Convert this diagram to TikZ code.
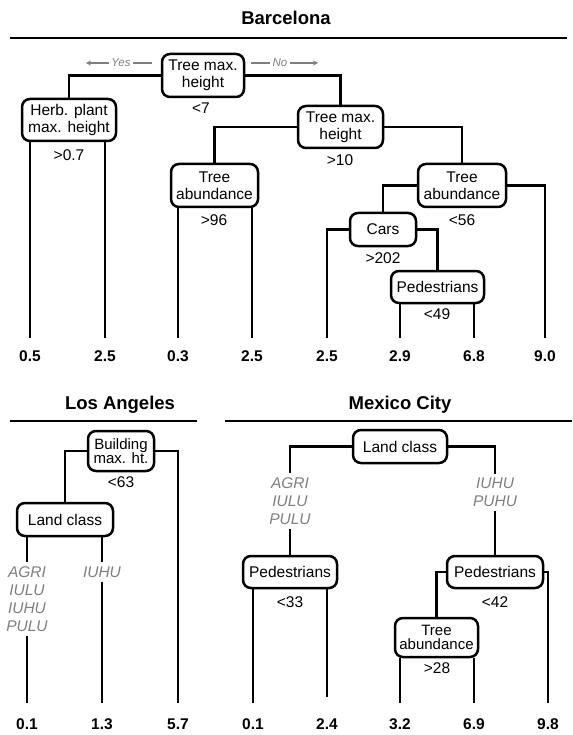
\documentclass[tikz,border=0pt]{standalone}
\usepackage{fontspec}
\setmainfont{Liberation Sans}
\usetikzlibrary{arrows.meta}
\definecolor{clsgray}{HTML}{7F7F7F}
\begin{document}
\begin{tikzpicture}[x=1pt,y=-1pt,
  box/.style={draw, line width=2.5pt, rounded corners=8pt, align=center, inner sep=0pt, fill=white,
    font=\fontsize{15.5}{17}\selectfont},
  tight/.style={font=\fontsize{15}{14.5}\selectfont},
  conn/.style={line width=2.7pt},
  cond/.style={inner sep=0pt, font=\fontsize{15.5}{17}\selectfont},
  leaf/.style={inner sep=0pt, font=\bfseries\fontsize{15.5}{17}\selectfont},
  title/.style={inner sep=0pt, font=\bfseries\fontsize{18.5}{20}\selectfont},
  cls/.style={font=\itshape\fontsize{15.5}{18}\selectfont, text=clsgray, align=center, inner sep=4pt},
  yn/.style={font=\itshape\fontsize{11.5}{13}\selectfont, text=clsgray, inner sep=2pt},
  ynline/.style={draw=clsgray, line width=1.6pt},
  rule/.style={line width=2.2pt}]
\useasboundingbox (0,0) rectangle (572,735);

% ---------------- Barcelona ----------------
\node[title] (tB) at (286,18) {Barcelona};
\coordinate (rB1) at (10,38);
\coordinate (rB2) at (567,38);
\draw[rule] (rB1) -- (rB2);

\node[box, minimum width=82pt, minimum height=43pt] (b1) at (203,75.5) {Tree max.\\height};
\node[box, minimum width=94pt, minimum height=42pt] (b2) at (69,120) {Herb. plant\\max. height};
\node[box, minimum width=85pt, minimum height=42pt] (b3) at (340.5,127) {Tree max.\\height};
\node[box, minimum width=87pt, minimum height=43pt] (b4) at (214.5,185.5) {Tree\\abundance};
\node[box, minimum width=88pt, minimum height=43pt] (b5) at (462,185.5) {Tree\\abundance};
\node[box, minimum width=66pt, minimum height=33pt] (b6) at (383,229.5) {Cars};
\node[box, minimum width=93pt, minimum height=32pt] (b7) at (437.5,287) {Pedestrians};

\node[cond] (c1) at (201,108) {<7};
\node[cond] (c2) at (69,155) {>0.7};
\node[cond] (c3) at (340,160) {>10};
\node[cond] (c4) at (214,220) {>96};
\node[cond] (c5) at (462,220) {<56};
\node[cond] (c6) at (383,258) {>202};
\node[cond] (c7) at (437,314) {<49};

% yes / no
\node[yn] (yes) at (121,63) {Yes};
\coordinate (yesL) at (86,63);
\coordinate (yesR) at (152,63);
\draw[ynline, -{Stealth[length=5pt,width=5pt]}] (yes.west) -- (yesL);
\draw[ynline] (yes.east) -- (yesR);
\node[yn] (no) at (280,63) {No};
\coordinate (noL) at (251,63);
\coordinate (noR) at (318,63);
\draw[ynline] (no.west) -- (noL);
\draw[ynline, -{Stealth[length=5pt,width=5pt]}] (no.east) -- (noR);

% leaves
\foreach \n/\x/\v in {1/30/0.5, 2/105/2.5, 3/178/0.3, 4/252/2.5, 5/327/2.5, 6/400/2.9, 7/474/6.8, 8/545/9.0}{
  \coordinate (eB\n) at (\x,338);
  \node[leaf] (lB\n) at (\x,356) {\v};
}

\draw[conn] (b1.west) -| (b2.north);
\draw[conn] (b1.east) -| (b3.north);
\draw[conn] (b2.south -| eB1) -- (eB1);
\draw[conn] (b2.south -| eB2) -- (eB2);
\draw[conn] (b3.west) -| (b4.north);
\draw[conn] (b3.east) -| (b5.north);
\draw[conn] (b4.south -| eB3) -- (eB3);
\draw[conn] (b4.south -| eB4) -- (eB4);
\draw[conn] (b5.west) -| (b6.north);
\draw[conn] (b5.east) -| (eB8);
\draw[conn] (b6.west) -| (eB5);
\draw[conn] (b6.east) -| (b7.north);
\draw[conn] (b7.south -| eB6) -- (eB6);
\draw[conn] (b7.south -| eB7) -- (eB7);

% ---------------- Los Angeles ----------------
\node[title] (tL) at (120,405) {Los Angeles};
\coordinate (rL1) at (10,421);
\coordinate (rL2) at (197,421);
\draw[rule] (rL1) -- (rL2);

\node[box, tight, minimum width=66pt, minimum height=40pt] (l1) at (121,451) {Building\\max. ht.};
\node[box, minimum width=96pt, minimum height=33pt] (l2) at (65,519.5) {Land class};
\node[cond] (cl1) at (121,482) {<63};

\node[cls] (ka) at (27,599) {AGRI\\IULU\\IUHU\\PULU};
\node[cls] (kb) at (102,572) {IUHU};

\foreach \n/\x/\v in {1/27/0.1, 2/102/1.3, 3/178/5.7}{
  \coordinate (eL\n) at (\x,703);
  \node[leaf] (lL\n) at (\x,724) {\v};
}
\draw[conn] (l1.west) -| (l2.north);
\draw[conn] (l1.east) -| (eL3);
\draw[conn] (l2.south -| ka) -- (ka.north);
\draw[conn] (ka.south) -- (eL1);
\draw[conn] (l2.south -| kb) -- (kb.north);
\draw[conn] (kb.south) -- (eL2);

% ---------------- Mexico City ----------------
\node[title] (tM) at (400,405) {Mexico City};
\coordinate (rM1) at (225,421);
\coordinate (rM2) at (572,421);
\draw[rule] (rM1) -- (rM2);

\node[box, minimum width=94pt, minimum height=33pt] (m1) at (400,446.5) {Land class};
\node[box, minimum width=94pt, minimum height=32pt] (m2) at (290,572) {Pedestrians};
\node[box, minimum width=96pt, minimum height=32pt] (m3) at (495,572) {Pedestrians};
\node[box, tight, minimum width=83pt, minimum height=39pt] (m4) at (436.5,637.5) {Tree\\abundance};

\node[cond] (cm2) at (290,602) {<33};
\node[cond] (cm3) at (495,602) {<42};
\node[cond] (cm4) at (437,668) {>28};

\node[cls] (kc) at (290,501) {AGRI\\IULU\\PULU};
\node[cls] (kd) at (495,492.5) {IUHU\\PUHU};

\foreach \n/\x/\v/\e in {1/253/0.1/703, 2/327/2.4/697, 3/400/3.2/703, 4/474/6.9/703, 5/548/9.8/703}{
  \coordinate (eM\n) at (\x,\e);
  \node[leaf] (lM\n) at (\x,724) {\v};
}
\draw[conn] (m1.west) -| (kc.north);
\draw[conn] (kc.south) -- (m2.north);
\draw[conn] (m1.east) -| (kd.north);
\draw[conn] (kd.south) -- (m3.north);
\draw[conn] (m2.south -| eM1) -- (eM1);
\draw[conn] (m2.south -| eM2) -- (eM2);
\draw[conn] (m3.west) -| (m4.north);
\draw[conn] (m3.east) -| (eM5);
\draw[conn] (m4.south -| eM3) -- (eM3);
\draw[conn] (m4.south -| eM4) -- (eM4);
\end{tikzpicture}
\end{document}
